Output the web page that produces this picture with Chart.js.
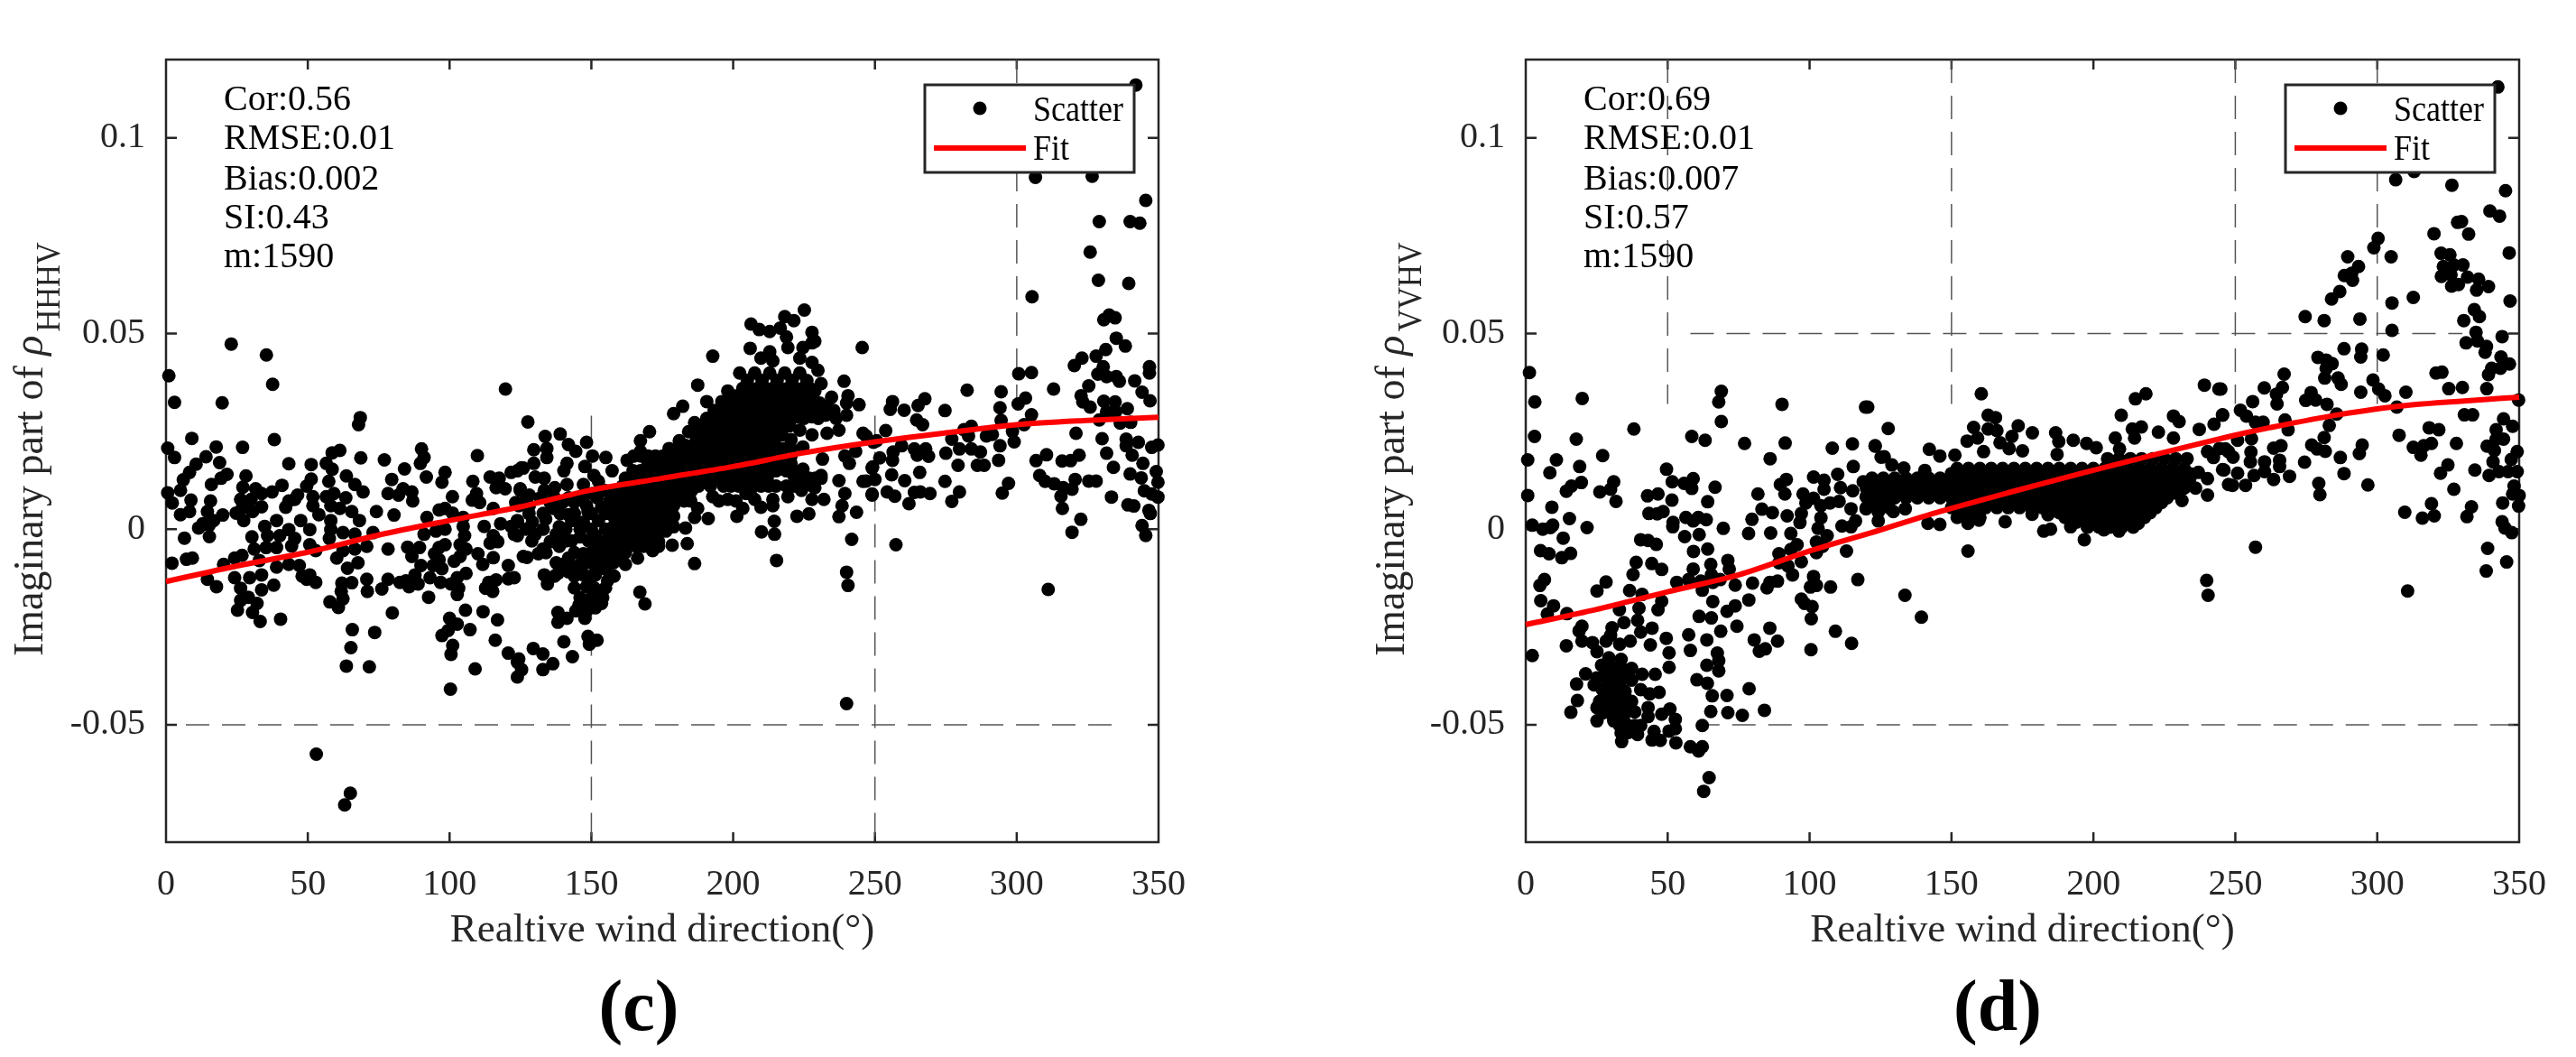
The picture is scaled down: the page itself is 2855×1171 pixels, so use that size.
<!DOCTYPE html>
<html><head><meta charset="utf-8">
<style>html,body{margin:0;padding:0;background:#fff;overflow:hidden}canvas{position:absolute;top:0}</style>
<script src="https://cdn.jsdelivr.net/npm/chart.js@4"></script>
</head><body>
<canvas id="c" width="1420" height="1171" style="left:0"></canvas>
<canvas id="d" width="1435" height="1171" style="left:1420px"></canvas>
<script>
// [direction in degrees, imaginary part x 1000]
const scatterC=[[23,47.3],[35.4,44.5],[1,39.2],[37.6,37],[3,32.4],[19.8,32.3],[119.7,35.8],[68.5,28.5],[67.9,26.7],[9.1,23.2],[38.2,22.9],[17.7,21],[27,20.9],[.6,20.7],[3,18.3],[14.1,18.5],[10.6,16.6],[18.9,17],[43.3,16.7],[68.7,18.2],[77,17.7],[109.8,18.8],[90.1,20.5],[91,18.3],[89.7,16.8],[61.3,20.1],[58.6,19.5],[56.5,16.8],[51.2,16.5],[58.6,15.3],[84.1,15.4],[98.4,14.5],[97.3,12],[91.8,13.3],[21.5,14],[19.4,13],[16,11.4],[8.3,14.5],[6.1,12.6],[5.1,9.9],[28.2,13.6],[63.6,13.6],[66.6,11.4],[69.5,9.5],[57.4,12.2],[51.2,12.8],[40.9,11.2],[79.6,12.7],[108.2,12.2],[114.3,13.3],[117.5,13],[121.7,14.5],[125.4,15.7],[116.4,10.6],[119.6,10.3],[124.9,10.3],[.6,9.3],[2.2,6.7],[8.8,7.4],[15.7,7.2],[5.1,3.7],[8.3,4.5],[14.6,4.5],[20,3.6],[16.8,2.2],[13,1.4],[11.5,.3],[15.2,1],[6.5,-2.3],[15.3,-1.9],
[27.1,10.7],[26.3,7.6],[31.6,10.3],[33.7,9.1],[37.4,9.5],[24.7,4.1],[27.4,2.2],[30,7.6],[30.5,4.5],[33.7,5.7],[29,6.4],[26.8,5.3],[46.4,8.7],[43.3,7.2],[42.2,5.6],[45.4,7.6],[49.6,11],[51.8,8.3],[51.8,6],[53.9,3.7],[56.5,8.3],[59.2,9.1],[58.1,6],[58.1,2.2],[63.4,8],[61.3,5.3],[65.5,4.5],[68.2,2.2],[58.1,-.1],[62.4,-.9],[66.6,-1.3],[73,-.9],[57.6,-2.4],[74.2,4.5],[80.4,3.6],[78.3,9.1],[82,8.7],[83.6,10.3],[86.7,9.5],[87,7.2],[101,8.3],[109.5,9.1],[108,7.4],[110.6,6.8],[123.3,6.8],[98.4,5.3],[96.3,4.9],[101,4.1],[104.8,3],[92,3],[115.4,5.3],[112.2,.7],[118,1.4],[121.7,.7],[123.9,2.2],[122.8,-1.3],[115.4,-1.7],[114.3,-3.6],[117,-3.2],[104.8,.7],[105.3,-1.7],[103.7,-4],[105.8,-5.1],[103.7,-7],[98.4,0],[95.2,-.5],[91,-1.3],
[34.8,.7],[39,2.2],[43.3,-.1],[47.5,2.2],[50.7,-.1],[35.8,-1.7],[40.1,-1.7],[45.4,-2.4],[35.3,-4.7],[39,-4.7],[44.3,-4.3],[50.7,-4],[52.8,-5.5],[30.3,-2],[31.1,-5.1],[26.8,-6.7],[24.2,-7.4],[32.9,-8],[9.3,-7.4],[7.2,-7.7],[2.1,-8.7],[20.3,-9],[78.3,-5.1],[85.2,-4.6],[89.4,-4.7],[86.7,-7],[96.3,-4.7],[98.4,-4],[94.7,-6.3],[96.3,-7.8],[97.3,-10.1],[94.2,-9.3],[89.9,-9.3],[87.8,-11.7],[70.8,-4.4],[66.6,-5.1],[62.4,-5.5],[60.2,-7.4],[67.7,-8.6],[64,-10],[110,-6.3],[115.4,-7.3],[111.7,-9],[120.7,-9.3],[126,-7],[101.6,-8.2],[105.8,-11.3],[102.7,-12.4],[103.2,-15.1],[100.5,-14],[102.7,-16.7],[84.6,-13.2],[82.5,-13.6],[88.9,-14],[85.7,-14.7],[93.1,-12.4],[96.8,-13.6],[78.3,-12.8],[76.1,-15.3],[92.6,-17.4],[70.8,-12.8],[71,-15.9],[120.7,-12.7],[116.4,-13],[113.8,-13.6],[112.7,-15.1],[115.2,-15.9],[65.5,-13.7],[62,-13.8],[61.8,-15.9],[62.4,-17.8],[60.8,-20],[57.8,-18.6],[50.7,-11.7],[48,-12],[52.8,-13.6],[49.6,-12.8],[43.3,-9],[47,-9.3],[39,-9.7],[33.7,-11.7],[29.5,-12.4],[24.2,-12.4],[14.6,-12.8],[17.8,-14.7],[38,-14.3],[33.7,-15.5],[26.3,-15.1],
[26.3,-18.2],[25.2,-20.7],[32.1,-19],[30.5,-21.3],[33.2,-23.6],[40.4,-23],[29,-17.4],[79.8,-21.4],[105.6,-20.7],[111.8,-21.1],[116.9,-23.2],[100,-22.8],[102.7,-24.3],[107.2,-25.7],[99.5,-25.9],[97.3,-27.2],[116.1,-28.4],[101.1,-29.7],[100.5,-32],[65.7,-25.7],[73.6,-26.4],[65.2,-30.3],[63.6,-35],[71.7,-35.2],[109,-35.7],[120.7,-31.7],[123.9,-34],[123.9,-37.8],[100.3,-40.9],[53,-57.5],[65,-67.5],[63,-70.5],[240,-44.6],
[225.1,56],[218.2,54.3],[221.4,53.3],[206.3,52.4],[209.2,51],[216.6,51.4],[212.9,50.5],[227.8,50.3],[228.8,48],[206,46.2],[245.5,46.4],[192.8,44.2],[239.1,37.8],[187.5,36.8],[240.5,34.1],[244.4,31.8],[240,32.2],[240,29.1],[182.2,31.4],[179,29.5],[127.6,27.4],[218.8,49.1],[219.3,46.4],[224.6,46.4],[227.8,47.6],[212.9,45.3],[209.8,43.7],[214,43],[223.5,43.7],[227.8,42.6],[202.3,39.9],[207.6,39.9],[212.9,39.9],[218.2,39.9],[223.5,39.9],[229.9,40.6],[231,37.2],[198.1,35.3],[203.4,36],[208.7,36],[214,36],[219.3,36],[224.6,36],[228.8,35.3],[234.7,33.7],[190.7,32.6],[196,32.6],[201.3,32.2],[206.6,32.2],[211.9,32.2],[217.2,32.2],[222.5,32.2],[227.8,32.2],[233.1,31.4],[186.4,27.2],[190.7,28.3],[196,28.3],[201.3,28.3],[206.6,28.3],[211.9,28.3],[217.2,28.3],[222.5,28.7],[227.8,28.7],[232.6,29.1],[236.3,28.3],[237.3,25.3],[233.1,24.5],[227.8,24.1],[223.5,25.3],[184.3,24.9],[189.6,25.3],[196,24.5],[201.3,24.5],[206.6,24.5],[211.9,24.5],[217.2,24.1],[220.4,22.9],[170.5,24.9],[167.3,22.6],[177.4,20.6],[183.2,21.4],[188.5,20.6],[193.9,20.6],[199.2,20.6],[204.5,20.6],[209.8,20.6],[215.1,20.6],[220.4,20.6],[224.6,21],
[162.6,17.6],[167.3,19.9],[172.6,17.6],[177.9,17.6],[183.2,17.2],[188.5,16.8],[193.9,16.8],[199.2,16.8],[204.5,16.8],[209.8,16.8],[215.1,16.8],[220.4,16.8],[224.6,15.3],[231.5,17.9],[162,13],[167.3,13.7],[172.6,13],[177.9,13],[183.2,13],[188.5,12.2],[193.9,13],[199.2,13],[204.5,13],[209.8,13.7],[216.1,15.3],[221.4,13.7],[226.7,13],[231,13.7],[158.9,9.9],[164.2,9.1],[169.5,9.1],[174.8,9.1],[180.1,9.1],[185.4,9.9],[192.8,8.3],[198.1,7.6],[204.5,9.1],[207.6,7.6],[214,7.6],[219.3,8.3],[224.1,9.9],[157.8,5.3],[163.1,5.3],[168.4,5.3],[173.7,5.3],[179,6],[184.8,7.6],[227.8,7.6],[232,7.6],[231,13],[228.8,10.6],[201.3,3.3],[203.4,5.3],[209.8,5.6],[214,6],[222.5,3.3],[226.7,3.9],[214.5,2],[210,-.7],[214.6,-1.3],[215.3,-8],[191.2,2.7],[187.5,5.3],[186.4,3],[183.2,.3],[183.8,-3.7],[178.5,-4.1],[186.4,-8.8],[157.8,.6],[163.1,1.4],[168.4,1.4],[173.7,1.4],[179,.6],[157.8,-3.2],[163.1,-2.4],[168.4,-2.4],[173.7,-3.2],[159.9,-7],[166.3,-7.4],[171.6,-5.5],
[133.7,23.7],[139,24.3],[134.3,20.6],[134.3,18.3],[141.9,21.6],[148.3,22.2],[144.5,19.9],[129.7,20.3],[141.4,16.8],[140.3,14.9],[126,15.6],[129.7,16.8],[123.9,14.9],[130.2,13.3],[133.4,13],[141.4,11.4],[137.1,10.6],[133.4,9.9],[124.9,9.9],[128.1,8.7],[147.2,11.4],[147.7,16],[150.9,13.7],[150.4,18.7],[155.1,18.3],[157.3,14.9],[152.5,12.2],[150.4,9.1],[154.6,9.9],[146.1,8.3],[144,6.8],[139.8,6.8],[135.5,6.8],[128.1,6],[124.4,6],[153.6,5.6],[148.3,6],[141.9,3.7],[136.6,5.3],[133.9,2.6],[129.2,1.8],[123.9,1.8],[130.2,-1.3],[123.9,-1.7],[138.7,.6],[143,2.2],[148.8,4.5],[152.5,2.2],[147.2,1.8],[146.1,-2],[137.6,-1.3],[135.5,-3.2],[138.7,-4.4],[132.9,-5.1],[131.3,-6.3],[127.3,-7.2],[151.4,-1.7],[154.6,-3.2],[152.5,-4.7],[147.2,-6.3],[141.9,-7.4],[137.6,-8.6],[143,-9.4],[148.3,-8.6],[153.6,-7.8],[157.8,-8.6],[133.4,-11.7],[134.5,-14],[138.2,-11.3],[141.9,-10.9],[147.2,-11.7],[151.4,-11.7],[155.7,-13.2],[154.6,-10.1],[148.3,-14.7],[152.5,-16.7],[149.3,-18.6],[145.6,-19.4],[153.6,-19],[148.3,-20.9],[151.4,-20.1],[144.5,-20.9],[147.7,-22.8],[138.2,-21.3],[138.2,-23.8],[141.4,-22.8],[122.8,-12.4],[167.1,-16.1],[168.9,-19.1],[241.8,-2.6],[240,-11],[240.5,-14.4],[148.8,-27.4],[152,-28.4],[149.3,-29.4],[140.3,-28.8],[143.3,-32.6],[129.5,-30.5],[132.9,-31.9],[132.9,-35.9],[136.4,-34.4],[124.4,-33.2],[125.4,-35.9],[237.3,12.4],[239.4,9.1],[238.4,6],[237.3,3.2],[243.5,4.3],[245.8,12.2],[249,15.6],[249,8.7],[243.2,19.9],[239.4,18.7],[241,16.8],[245.8,24.5],[249.5,22.2],
[306.6,89.9],[326.6,90.2],[345.5,84],[329.1,78.6],[340,78.6],[343.4,78.2],[325.9,70.8],[328.8,63.6],[339.5,62.8],[305.4,59.4],[330.7,53.5],[332.6,54.7],[334.7,54],[335.1,48.8],[338.3,46.8],[331.4,45.9],[328,44.2],[323,43.7],[320.3,41.8],[346.8,41.5],[346.8,39.9],[330.5,41.5],[328.6,39.6],[331.7,39],[335.1,39],[336.2,37.8],[341.6,37.9],[300.7,39.7],[305.2,40],[313,35.8],[282.5,35.5],[294.5,35.1],[267.6,33.3],[265.2,31.6],[256.2,32.6],[255.4,30.6],[260.3,30.4],[274.7,30.3],[294.1,31],[303.1,33.5],[300.5,32],[344.2,35],[347,32.8],[325.4,36.6],[322.7,34.1],[323.3,32.5],[325.9,31.2],[330.7,32.7],[334.7,32.5],[339,30.8],[331.7,30],[334.9,30],[329.1,27.9],[336.5,27.1],[340.2,27.3],[305.2,29.2],[302.6,26.7],[294.5,27.8],[298.5,25],[299.1,22.3],[264.7,27.9],[266.8,26.7],[253.8,25.2],[250.6,22.6],[246.9,23.8],[281.4,25.4],[284,26.3],[277.1,23],[275,19.4],[283,23.8],[289.3,23.8],[291.4,24.2],[279.8,20.5],[284,20.5],[287.2,19.7],[294.1,21.3],[293.6,17.6],[279.3,16.3],[286.1,16.3],[288.5,16.3],[259.4,21.3],[256.4,19.7],[256.2,17.6],[251.7,18.2],[249.2,15.9],[250,12.7],[246.9,12.3],[263.9,20.5],[264.9,18.9],[267.9,20.5],[268.9,18.6],[255.9,13.9],[260.5,12.4],[265.8,14.5],[274.7,12.2],[249,9],[254.3,9.5],[257,8.4],[262,6.5],[263.9,9.4],[266,9.5],[269.4,9.1],[277.1,7.1],[279.8,9.5],[297.1,11.7],[294.9,9.2],[257.4,-4],[311.1,-15.4],[306.8,17.5],[310.5,19],[316,17.4],[319,17.5],[322,18.9],[331.7,19.4],[330.1,23.1],[320.9,24.5],[334.1,15.8],[308.1,13.7],[310,12.2],[313.2,11.6],[316.4,10.6],[320.6,12.7],[319.5,10.2],[315.6,8.4],[316.1,5.3],[325.4,12.3],[328,12.3],[333.4,8.2],[322.6,2.5],[319.5,-.8],[338.6,23],[342.9,22.2],[338.6,21.3],[340.7,18.9],[344.5,16.8],[340,14.1],[343.9,13.1],[349.2,14.7],[349.8,12],[345,9.8],[347.6,9],[349.8,8.2],[339.2,6.2],[341.3,5.9],[346.6,4.8],[347.1,4],[344.2,.9],[345.5,-1.6],[347.6,20.9],[349.8,21.5],[342,113.5]];
// rows of the solid part of panel c: [imaginary part x 1000, [directions]]
const denseC=[[38,[205,210.2,215.5,220.8,226]],[34,[200.7,206,211.3,216.6,221.9,227.2,203.4,208.7,214,219.3,224.6]],[30.3,[193.3,198.7,204,209.3,214.6,219.9,225.2,230.5,235.5,196,201.3,206.6,211.9,217.2,222.5,227.8,233]],[26.4,[188,193.3,198.7,204,209.3,214.6,219.9,190.7,196,201.3,206.6,211.9,217.2]],[22.6,[181,186.9,192.3,198.7,204,209.3,214.6,189.6,196,201.3,206.6,211.9]],[18.7,[165,170,175.2,180.5,185.8,191.2,196.6,201.9,207.2,212.5,217.8,167.5,172.6,177.9,183.2,188.5,193.9,199.2,204.5,209.8,215.1,220.4]],[14.9,[164.7,170,175.2,180.5,185.8,191.2,196.6,201.9,207.2,212.5,218.8,224,167.3,172.6,177.9,183.2,188.5,193.9,199.2,204.5,209.8,215.1,221.4]],[11,[161,166.6,171.9,177.2,182.5,187.8,196.6,201.9,207.2,212.5,218.8,224,164,169.5,174.8,180,185.4,192,199.2,204.5,209.8,215.1,221.4,228]],[7.2,[156.5,161.5,166.8,172.1,177.4,182.7,195,201,159,164.2,169.5,174.8,180,185]],[3.3,[160.4,165.8,171,176.3,157.8,163,168.4,173.7,179]],[-.5,[160.4,165.8,171,176.3,157.8,163,168.4,173.7]],[-4.4,[155,160.4,165.8,171,157.8,163,168.4,173.7]],
[8,[127,132,137,142,147,152,157]],[4,[128,133,139,144,150,155]],[0,[127,133,141,146,150,155]],[-3,[129,141,143,149,156]],[-6,[134,144,150,156,162]],[-9,[140,146,151,156,162]],[-12,[137,144,150,158]],[-15,[144,151,155]],[-17.5,[146,150,154]],
[36,[206,211.3,216.6,221.9,227]],[32.2,[199,204,209.3,214.5,219.8,225.2,230.5]],[28.3,[193.3,198.7,204,209.3,214.6,219.9,225,230]],[24.5,[187,192.8,198.7,204,209.3,214.6]],[20.6,[180.5,185.8,191.2,196.6,201.9,207.2,212.5,217.8]],[16.8,[170,175.2,180.5,185.8,191.2,196.6,201.9,207.2,212.5,217.8]],[13,[164.7,170,175.2,180.5,185.8,191.2,196.6,201.9,207.2,212,224,229]],[9.1,[161.5,166.8,172.1,177.4,182.7,206]],[5.3,[160.4,165.8,171,176.3]],[1.4,[160.4,165.8,171,176.3]],[-2.4,[160.4,165.8,171]]];
const fitXs=[0,25,50,75,100,125,150,175,200,225,250,275,300,325,350];
const fitC=[-13.4,-9.4,-5.9,-1.5,2.2,5.7,10,13,16,19.5,22.3,24.6,26.7,27.8,28.6];

const scatterD=[[1.3,40],[3.2,32.5],[19.9,33.4],[68.9,35.2],[68,32.5],[68.9,27.5],[90.3,31.9],[119.7,31.2],[3.1,23.7],[17.8,23],[38.1,25.6],[58.5,23.7],[63.2,22.7],[77.1,21.9],[91.4,22],[108,20.7],[115.1,21.8],[123.1,21.3],[86.1,18],[.7,17.7],[10.8,17.7],[27.1,18.8],[19,16],[8.5,14.4],[49.6,15.3],[115.4,16],[125.2,18.4],[19.6,11.9],[16.1,11],[14.3,9.7],[31,12.1],[29.9,10.2],[26.1,9.5],[31.8,7.1],[.7,8.6],[51.6,12.1],[55.8,11.7],[59,12.9],[58.5,10.4],[66.7,10.7],[46.6,9],[42.9,8.5],[51.5,7.4],[64.1,7],[81.8,9],[9.2,5.6],[43.4,4],[46.3,3.9],[48.4,4.5],[51.9,1.7],[51.8,.6],[15.4,2.7],[2.3,1],[6,0],[8.7,.4],[9.5,1],[21.6,.4],[56.4,3],[59,2.1],[60.8,3],[63.6,2.4],[69.6,.2],[79.7,2.5],[83.2,5.1],[86.9,4.2],[92.1,3.4],[78.5,-1.1],[86.3,-1],[93.4,-1.1],[13.2,-2.3],[56,-1.9],[61.1,-1.4],[40.5,-2.7],[43.1,-2.9],[46,-3.9],[59.1,-5.7],[64.1,-5.1],[5.2,-5.5],[8.2,-6.3],[12.7,-7.3],[15.8,-6.2],
[91.8,12.7],[89.7,11.4],[91.3,9],[97.7,9],[101.4,13.3],[105.1,12.5],[105.1,10.2],[101.4,7.9],[98.7,6.7],[97.1,4],[96.6,1.7],[104,6],[104,2.9],[109.9,14],[110.9,10.6],[110.4,7.1],[107.2,6.7],[115.2,9.8],[114.6,5.2],[116.2,2.1],[111.4,.8],[114.6,.6],[103,.2],[106.2,-1.7],[102.4,-3.3],[104.6,-4.4],[102.4,-6],[118.9,12.1],[122,10.6],[119.9,8.3],[124.2,12.1],[124.2,8.3],[119.9,5.2],[124.2,4.4],[124.2,2.1],[113,-5.6],[89.2,-6.3],[93.4,-5.2],[95.6,-4],[97.1,-8.3],[92.4,-9.4],[94,-11.7],[89.2,-8.6],[38.9,-8.5],[37.8,-11.6],[44.4,-8.8],[47.9,-10.3],[71.2,-8],[71.7,-10.2],[65.2,-9],[59,-10.2],[65.4,-11.7],[53.2,-13.6],[57.4,-12.9],[61.7,-13.3],[65.9,-13.6],[68.5,-12.9],[62.2,-15.6],[6.6,-12.9],[5,-14.4],[28.3,-13.5],[25.1,-15.8],[36.6,-15.7],[41,-16.7],[39.9,-20.2],[47.9,-18.4],[46.6,-20.6],[73.8,-14.3],[79.9,-13.8],[65.9,-18.5],[78.6,-18.1],[73.8,-19.6],[70.9,-21],[86,-13.6],[88.7,-13.3],[85,-15],[117,-12.9],[101.4,-12.1],[100.3,-14.8],[102.4,-14.4],[107.4,-14.8],[97.1,-17.9],[100.9,-19.8],[98.2,-19],[100.6,-22.9],[5.3,-18.3],[9.8,-19.6],[7.6,-21.7],[14.5,-21.6],[33,-20.6],[34.6,-23.9],[39.4,-23.3],[40.5,-26.3],[44.5,-25.3],[61.1,-22.3],[65.4,-22.7],[68.7,-26.1],[74.4,-24.8],[57.4,-27],[63.8,-28.3],[49.5,-27.9],[43.9,-29.6],[58,-31],[50.5,-31.6],[50.5,-35.3],[86,-25.3],[88.7,-28.6],[80.5,-28.3],[84.4,-30.6],[82.3,-31.2],[109.1,-26.1],[114.8,-29.2],[100.5,-30.8],[2.3,-32.3],[14.3,-29.8],[19.8,-24.8],[18.8,-26],[19.8,-28.6],[23.5,-29],[25.1,-31.3],[28.3,-28.6],[30.4,-25.2],[29.9,-27.1],[33.1,-29.4],[36.8,-28.6],[67.5,-31.7],[68,-33.6],[63.8,-34.8],[68,-36.2],[60.3,-38.5],[64,-39.4],[65.7,-42.6],[70.9,-42.5],[78.7,-40.8],[65.2,-46.6],[71.2,-46.9],[76.3,-47.6],[84.1,-46.3],
[29.3,-32.9],[33.6,-33.3],[26.7,-34.8],[37.3,-35.6],[32,-37.1],[27.8,-37.1],[41,-37.1],[45.6,-37.1],[21.1,-37],[17.9,-39.6],[24.1,-39.8],[28.8,-39.8],[33.1,-39.8],[37.3,-38.6],[18.2,-43.8],[15.9,-46.8],[40.5,-41],[43.7,-42.1],[47,-41.7],[27.8,-42.5],[32.5,-42.5],[28.8,-44.8],[34.1,-44.8],[37.3,-44],[25.1,-45.6],[29.9,-47.1],[34.1,-47.9],[38.4,-46.7],[43.1,-45.6],[43.1,-47.9],[25.1,-49],[33.1,-50.2],[47.9,-47.3],[50.8,-46],[52.7,-48.6],[52.7,-51],[50.5,-51.6],[38.4,-50.2],[40.5,-50.2],[39.4,-52.5],[33.6,-52.1],[33.8,-54.3],[45.2,-51.7],[44.5,-53.9],[47.4,-54],[52.9,-54.6],[58,-55.6],[60.9,-56.7],[62.2,-55.6],[62.2,-50.2],[64.6,-63.5],[62.7,-67],
[28,-35],[31,-35.5],[35,-36],[25,-38],[30,-38],[35,-38],[27,-41],[31,-41],[35,-41.5],[26,-44],[30.5,-43.8],[33,-43],[35,-43],[27,-47],[32,-46],[36,-46.5],[31,-49],[35,-49.5],[36,-52],
[160.5,34.6],[214.8,33.3],[218.5,34.6],[239.1,36.8],[244.2,35.8],[127.7,25.7],[123.1,21.2],[209.8,29.1],[228.2,28.9],[230.2,27.5],[245.5,29.1],[242.5,26.8],[237.3,25.5],[162.9,29.1],[165.5,28.5],[157.8,26],[155.5,22.5],[159.2,23.3],[162.9,25.6],[166,25.2],[173.5,26.4],[178.5,24.6],[171.3,23.7],[186.7,24.6],[187.8,22.4],[192.9,22.7],[187.2,19.1],[142.2,20.4],[213.7,25.6],[216.9,26.1],[214.5,23.3],[207.7,23.3],[222.9,24.8],[228.2,23.3],[197.6,21.9],[201,20.8],[209.2,20.5],[161.3,19.8],[167.1,22.1],[170.3,20.6],[175,20],[145.9,18.7],[151.2,18.9],[126.3,18.5],[129,16.4],[133.2,15.6],[140.6,15],[129.5,4.5],[133.7,5.2],[141.7,1.5],[145.9,1.2],[155.8,1.5],[159.7,2.3],[168.9,1.9],[178.4,3.8],[184,3.7],[182.5,-.5],[184.9,0],[192,.6],[197.8,.6],[203.7,-.2],[209,-.5],[215.8,1.5],[222.2,6],[231.2,7.3],[240.2,8.7],[196.8,-2.7],[155.8,-5.6],[133.6,-16.9],[139.4,-22.5],[239.9,-13.1],[240.4,-16.9],[120.5,31.2],[240.2,19.8],[242.3,18.3],[245.5,15.2],[237,14.5],[240.2,12.9],[244.4,20.6],[247.6,19.8],[247.6,11.4],
[306.5,89.3],[313,91.4],[326.3,87.9],[345.2,86.5],[339.7,81.3],[343.1,80],[328.3,78.4],[329.7,78.6],[320,75.5],[332.2,75.4],[346.5,70.6],[300.3,74.3],[298.8,71.9],[304.9,69.6],[289.6,69.6],[293.4,67.1],[291,65.4],[288.4,64.8],[291.3,63.6],[286.8,60.7],[283.9,58.8],[305.2,57.8],[312.7,59.2],[346.8,58.3],[322.5,70.5],[325.6,70.1],[323.3,67.1],[327,67.5],[330.2,67.5],[322.6,64.6],[326,65],[326.2,62.1],[328.6,62.5],[331.8,64.4],[335.7,63.9],[339.2,62],[335,61.1],[334.2,56.1],[336,54.3],[330.5,53.3],[274.6,54.3],[281.3,53.3],[293.9,53.7],[305.2,50.8],[334.8,50.3],[331.3,47.6],[335.3,48.1],[338.5,46.7],[338,45.2],[344,49.2],[288.3,46.1],[294.5,46],[294.2,44],[302.1,44.5],[279.1,43.9],[282,43.2],[284.1,42.3],[282,41.1],[281.5,38.6],[286.2,38.6],[287.3,37],[343.6,44],[346.6,42.2],[340.3,41.1],[339.2,39.5],[343.4,41.1],[320.7,39.9],[322.8,40.1],[267.2,39.6],[260.2,36.1],[244.9,35.8],[266.6,36.2],[264.5,34.5],[264.7,32],[256.1,32.6],[276.7,34.9],[274.8,32.9],[278.3,33],[282.3,31.9],[294.2,35],[298.5,38.1],[300.5,35.8],[302.7,34.1],[310.1,35],[325.2,35.9],[330,36.2],[338.6,35.9],[306.9,31.2],[251.8,30.4],[253.9,28.9],[245.5,29.2],[285.7,29.4],[267.5,27.9],[268.6,25.4],[257.1,27.3],[259.8,27.3],[283.1,26.5],[330.7,29.2],[333.6,29.2],[344.5,28.2],[347.7,26.3],[318.3,25.9],[321.7,25.4],[307.7,24],[250.8,22.7],[255.7,23.1],[281.3,23.4],[276.9,21.5],[278.8,20.5],[281.7,19.9],[294.7,21.5],[293.7,19.3],[263.5,20.7],[266.1,21.3],[287,18.3],[312.7,20.9],[316.4,21.3],[319.1,21.9],[315.4,18.9],[327.9,21.9],[341.9,25.4],[344.5,23],[341.9,23],[338.7,21.2],[341.3,20.1],[340.8,17.2],[349.3,19.8],[347.2,17.8],[246.5,20.5],[249.2,18.4],[255.5,19.7],[255.3,17.2],[260.3,17.2],[265.6,17.6],[265.6,16],[246,15.1],[250.8,14.3],[256.6,13.7],[260.3,14.7],[263.5,12.7],[269.1,13.5],[249,11.2],[253.6,11.2],[274.4,17.1],[288.3,14.2],[279.4,11.7],[279.8,8.8],[296.7,11.3],[324.9,16.4],[322.3,14.3],[334.4,15.1],[327,10.2],[339.4,13.7],[342.9,14.7],[346.1,14.7],[349.3,14.7],[348.2,11],[347.7,9],[350,8.6],[344.2,6.7],[349.8,5.9],[319.1,6.5],[320.1,3.4],[315.9,2.8],[309.7,4.3],[333.2,5.7],[331.6,3.2],[344,1.9],[345,.3],[347.4,-.9],[338.9,-4.9],[345.6,-8.4],[338.4,-10.7],[257.1,-4.6],[310.7,-15.8],[349.8,33],[342.5,113]];
// rows of the solid band of panel d: [imaginary part x 1000, [directions]]
const denseD=[[18,[205,209,213,217,221,225,229,233]],[15.5,[152,156,160,164,168,172,176,180,184,188,192,196,200,204,208,212,216,220,224,228,232]],[13,[122,126,130,134,138,142,146,150,154,158,162,166,170,174,178,182,186,190,194,198,202,206,210,214,218,222,226,230,234]],[10.5,[120,124,128,132,136,140,144,148,152,156,160,164,168,172,176,180,184,188,192,196,200,204,208,212,216,220,224,228,232,236]],[8,[122,126,130,134,138,142,146,150,154,158,162,166,170,174,178,182,186,190,194,198,202,206,210,214,218,222,226]],[5.5,[120,124,128,150,154,158,162,166,170,174,178,182,186,190,194,198,202,206,210,214,218,222]],[3,[152,156,160,190,194,198,202,206,210,214,218]],[.5,[198,202,206,210,214]],
[14.2,[150,154,158,162,166,170,174,178,182,186,190,194,198,202,206,210,214,218,222,226,230,234]],[11.8,[121,125,129,133,137,141,145,149,153,157,161,165,169,173,177,181,185,189,193,197,201,205,209,213,217,221,225,229,233]],[9.2,[121,125,129,133,137,141,145,149,153,157,161,165,169,173,177,181,185,189,193,197,201,205,209,213,217,221,225,229]],[6.8,[152,156,160,164,168,172,176,180,184,188,192,196,200,204,208,212,216,220,224]],[4.2,[154,158,188,192,196,200,204,208,212,216,220]],[1.8,[194,198,202,206,210,214]]];
const fitDx=[0,25,50,75,100,125,146,171,197,222,248,262,286,310,350];
const fitD=[-24.4,-20.5,-16,-11.7,-5.6,-.2,4.5,9.5,14.5,19.1,23.7,25.9,29.2,31.6,33.7];

const xTicks=[0,50,100,150,200,250,300,350];
const yTicks=[-0.05,0,0.05,0.1];
const statsC=["Cor:0.56","RMSE:0.01","Bias:0.002","SI:0.43","m:1590"];
const statsD=["Cor:0.69","RMSE:0.01","Bias:0.007","SI:0.57","m:1590"];
// dashed guide segments: [[x0,y0],[x1,y1]]
const guidesC=[[[7,-.05],[335,-.05]],[[150,.029],[150,-.08]],[[250,.029],[250,-.08]],[[300,.12],[300,.03]]];
const guidesD=[[[58,.05],[330,.05]],[[60,-.05],[350,-.05]],[[50,.12],[50,.032]],[[150,.12],[150,.032]],[[250,.12],[250,.032]],[[300,.12],[300,.032]]];

const SERIF='"Liberation Serif"', INK='#262626';
function makePanel(id,o){
  const H=1171,W=document.getElementById(id).width;
  const pts=o.scatter.map(p=>({x:p[0],y:p[1]/1000}))
    .concat(o.dense.flatMap(r=>r[1].map(x=>({x:x,y:r[0]/1000}))));
  const frame={id:'frame',
    beforeDatasetsDraw(ch){
      const c=ch.ctx,a=ch.chartArea,sx=ch.scales.x,sy=ch.scales.y;
      c.save();c.strokeStyle=INK;c.lineWidth=2.5;
      c.strokeRect(a.left,a.top,a.right-a.left,a.bottom-a.top);
      c.beginPath();
      xTicks.slice(1,-1).forEach(v=>{const p=sx.getPixelForValue(v);
        c.moveTo(p,a.top);c.lineTo(p,a.top+11);c.moveTo(p,a.bottom);c.lineTo(p,a.bottom-11);});
      yTicks.forEach(v=>{const p=sy.getPixelForValue(v);
        c.moveTo(a.left,p);c.lineTo(a.left+12,p);c.moveTo(a.right,p);c.lineTo(a.right-12,p);});
      c.stroke();c.restore();
    },
    afterDraw(ch){
      const c=ch.ctx,a=ch.chartArea;
      c.save();c.textAlign='left';c.textBaseline='alphabetic';
      // statistics block
      c.fillStyle='#000';c.font='40px '+SERIF;
      [122,165,210,253,296].forEach((b,i)=>c.fillText(o.stats[i],a.left+64,b));
      // legend
      const L=a.right-259;
      c.fillStyle='#fff';c.fillRect(L,94,232,97);
      c.strokeStyle=INK;c.lineWidth=3;c.strokeRect(L,94,232,97);
      c.fillStyle='#000';c.beginPath();c.arc(L+61,120,7.5,0,Math.PI*2);c.fill();
      c.strokeStyle='#ff0000';c.lineWidth=6;c.beginPath();c.moveTo(L+10,164);c.lineTo(L+112,164);c.stroke();
      c.fillStyle='#000';c.font='40px '+SERIF;
      c.fillText('Scatter',L+120,134,100);
      c.fillText('Fit',L+120,177,40);
      // y axis title
      c.save();c.translate(o.yTitleX,727);c.rotate(-Math.PI/2);
      c.fillStyle=INK;c.font='46px '+SERIF;
      const t='Imaginary part of ';c.fillText(t,0,0);
      let w=c.measureText(t).width;
      c.font='italic 46px '+SERIF;c.fillText('\u03c1',w,0);w+=c.measureText('\u03c1').width+4;
      c.font='38px '+SERIF;c.fillText(o.sub,w,19,99);
      c.restore();
      // panel letter
      c.fillStyle='#000';c.textAlign='center';c.font='bold 80px '+SERIF;
      c.fillText(o.letter,o.letterX,1141);
      c.restore();
    }};
  const guideSets=o.guides.map(g=>({type:'line',data:g.map(p=>({x:p[0],y:p[1]})),borderColor:'#555',borderWidth:1.5,borderDash:[26,14],pointRadius:0,order:3,fill:false}));
  new Chart(document.getElementById(id),{
    data:{datasets:[
      {type:'line',label:'Fit',data:o.fitX.map((x,i)=>({x:x,y:o.fit[i]/1000})),borderColor:'#ff0000',borderWidth:6,pointRadius:0,tension:.3,order:0,fill:false,clip:false},
      {type:'scatter',label:'Scatter',data:pts,backgroundColor:'#000',borderWidth:0,pointRadius:7.5,pointHoverRadius:7.5,order:1,clip:false}
    ].concat(guideSets)},
    options:{responsive:false,animation:false,devicePixelRatio:1,
      layout:{padding:{left:0,top:66,right:W-o.right,bottom:113}},
      plugins:{legend:{display:false},tooltip:{enabled:false}},
      scales:{
        x:{type:'linear',min:0,max:350,
          grid:{display:false},border:{display:false},
          afterBuildTicks:s=>{s.ticks=xTicks.map(v=>({value:v}))},
          afterFit:s=>{s.height=125;s.paddingLeft=0;s.paddingRight=0},
          ticks:{maxRotation:0,autoSkip:false,padding:15,color:INK,font:{family:SERIF,size:40},callback:v=>String(v)},
          title:{display:true,text:'Realtive wind direction(\u00b0)',color:INK,font:{family:SERIF,size:45},padding:0}},
        y:{type:'linear',min:-0.08,max:0.12,
          grid:{display:false},border:{display:false},
          afterBuildTicks:s=>{s.ticks=yTicks.map(v=>({value:v}))},
          afterFit:s=>{s.width=o.left;s.paddingTop=0;s.paddingBottom=0},
          ticks:{autoSkip:false,padding:15,color:INK,font:{family:SERIF,size:40},callback:v=>String(v)}}
      }},
    plugins:[frame]});
}
makePanel('c',{scatter:scatterC,dense:denseC,fitX:fitXs,fit:fitC,guides:guidesC,stats:statsC,left:184,right:1284,yTitleX:47,sub:'HHHV',letter:'(c)',letterX:708});
makePanel('d',{scatter:scatterD,dense:denseD,fitX:fitDx,fit:fitD,guides:guidesD,stats:statsD,left:271,right:1372,yTitleX:136,sub:'VVHV',letter:'(d)',letterX:794});
</script>
</body></html>
